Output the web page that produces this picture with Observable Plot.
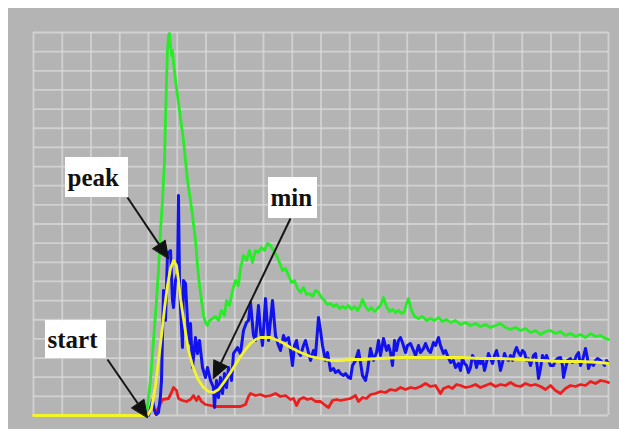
<!DOCTYPE html>
<html><head><meta charset="utf-8">
<script src="https://cdn.jsdelivr.net/npm/d3@7"></script>
<script src="https://cdn.jsdelivr.net/npm/@observablehq/plot@0.6"></script>
<style>html,body{margin:0;padding:0;background:#fff;} #chart{padding:8px 0 0 8px;width:611px;height:421px;}</style>
</head><body><div id="chart"></div>
<script>
// x = sample index, y = signal level (arbitrary units)
const sampleDomain = [0, 575];
const levelDomain = [0, 383];
const gridDivisions = 20;

const yellowSeries = [[0,0],[114,0],[118,7],[122,30],[125,55],[128,80],[131,107],[134,130],[137,147],[140,155],[143,150],[145,135],[147,117],[151,90],[155,65],[159,50],[164,37],[170,28],[175,24],[180,23],[185,26],[191,34],[197,43],[202,51],[207,59],[212,66],[217,72],[222,76],[227,78],[232,78],[237,78],[247,74],[257,68],[267,63],[277,59],[287,57],[297,55],[307,55],[317,56],[327,56],[347,57],[367,58],[387,58],[407,58],[427,58],[447,57],[467,57],[487,56],[507,55],[527,54],[547,54],[567,53],[575,52]];

const greenSeries = [[113,1],[117,35],[120,75],[123,115],[125,145],[127,185],[129,215],[131,255],[132,295],[133,335],[134,365],[135,380],[136,382],[137,370],[138,360],[139,365],[140,353],[142,335],[144,320],[147,297],[150,275],[152,255],[154,235],[157,215],[159,200],[162,175],[164,150],[166,130],[168,115],[170,100],[172,93],[174,90],[176,95],[179,97],[182,99],[185,95],[188,105],[191,100],[193,115],[196,110],[199,125],[202,135],[205,130],[207,147],[210,160],[213,155],[216,165],[219,153],[222,165],[225,163],[228,168],[231,165],[234,172],[237,170],[240,165],[243,160],[246,153],[249,145],[252,147],[255,140],[258,133],[261,135],[264,127],[267,123],[270,128],[273,121],[276,122],[279,119],[282,125],[285,123],[288,118],[291,115],[294,111],[297,112],[300,109],[303,111],[306,107],[309,109],[312,107],[315,110],[318,106],[321,109],[324,105],[327,110],[329,116],[332,109],[335,105],[338,108],[341,104],[344,107],[347,110],[350,118],[353,109],[356,104],[359,106],[362,103],[365,105],[368,102],[371,104],[373,112],[375,117],[378,105],[381,99],[385,97],[389,99],[393,95],[397,97],[401,95],[405,98],[409,94],[413,96],[417,93],[422,95],[427,91],[432,93],[437,90],[442,92],[447,89],[452,91],[457,88],[462,90],[467,92],[472,88],[477,86],[482,88],[487,85],[492,87],[497,83],[502,85],[507,81],[512,84],[517,85],[522,82],[527,84],[532,80],[537,82],[542,79],[547,81],[552,78],[557,82],[562,79],[567,80],[572,77],[575,76]];

const redSeries = [[122,2],[129,16],[135,17],[138,23],[140,28],[143,25],[145,17],[149,15],[153,14],[157,16],[160,20],[163,15],[165,19],[168,14],[172,11],[177,10],[182,9],[187,9],[192,9],[197,9],[202,9],[207,9],[212,11],[215,19],[217,22],[222,20],[227,21],[232,19],[237,20],[242,22],[247,19],[252,20],[257,16],[260,17],[263,10],[266,16],[270,18],[274,16],[278,17],[282,14],[287,14],[292,10],[295,8],[299,15],[303,16],[307,15],[312,16],[317,17],[322,20],[325,14],[329,18],[333,17],[337,21],[342,22],[347,24],[352,23],[357,26],[362,25],[367,28],[372,26],[377,28],[382,27],[387,29],[392,32],[397,29],[402,30],[407,22],[410,27],[415,29],[419,27],[423,31],[427,30],[432,28],[437,29],[442,31],[447,28],[452,30],[457,32],[462,29],[467,31],[472,30],[477,33],[482,30],[487,29],[492,32],[497,30],[502,31],[507,29],[512,26],[517,30],[522,25],[527,22],[532,27],[537,30],[542,29],[547,31],[552,30],[557,34],[562,32],[567,35],[572,34],[575,33]];

const blueSeries = [[115,0],[117,7],[119,15],[121,5],[123,1],[125,3],[127,20],[128,35],[130,125],[132,95],[134,162],[137,165],[139,115],[140,108],[142,135],[144,142],[145,220],[146,135],[147,108],[149,68],[150,135],[152,132],[154,95],[155,72],[157,92],[159,48],[162,78],[164,62],[166,75],[169,48],[172,38],[174,48],[177,35],[180,28],[181,8],[183,35],[185,18],[187,38],[189,22],[191,42],[193,28],[195,48],[198,35],[200,62],[204,68],[207,62],[210,85],[213,93],[215,95],[217,113],[220,80],[222,75],[225,110],[227,85],[229,70],[232,117],[235,75],[237,95],[239,115],[242,80],[245,70],[247,65],[250,80],[252,75],[255,78],[257,65],[259,50],[261,70],[263,75],[265,63],[267,60],[270,70],[272,75],[275,63],[277,55],[280,65],[282,60],[285,98],[287,85],[289,70],[292,55],[294,63],[297,45],[300,47],[302,43],[305,45],[307,42],[310,40],[312,42],[315,38],[317,37],[319,50],[322,55],[325,65],[327,53],[329,40],[332,35],[334,45],[337,67],[340,55],[343,63],[345,75],[347,60],[350,77],[353,65],[355,70],[357,63],[359,50],[361,75],[363,65],[365,75],[367,78],[369,73],[372,63],[374,70],[377,72],[380,65],[382,60],[385,70],[387,63],[390,67],[392,72],[395,65],[397,63],[400,73],[402,70],[405,78],[407,70],[410,62],[412,65],[414,60],[417,53],[420,55],[422,48],[425,52],[427,45],[429,57],[431,52],[433,50],[435,43],[437,48],[439,60],[441,57],[443,48],[445,56],[447,52],[449,57],[451,45],[453,53],[455,62],[457,57],[459,52],[461,60],[463,65],[465,57],[467,45],[469,53],[471,62],[473,57],[475,55],[477,60],[479,55],[481,63],[483,68],[485,63],[487,60],[489,65],[491,63],[493,55],[495,57],[497,50],[500,60],[502,62],[504,47],[505,37],[507,47],[509,60],[511,55],[513,60],[515,55],[517,50],[520,50],[522,55],[524,57],[527,58],[529,50],[530,38],[532,47],[534,55],[537,57],[539,53],[541,55],[543,60],[545,63],[547,50],[549,55],[552,67],[554,57],[555,47],[557,53],[560,50],[562,55],[564,57],[567,55],[569,53],[571,50],[573,55],[575,52]];

// annotations
const labels = ["peak", "min", "start"];
const boxX1 = [32, 235, 12];
const boxX2 = [95, 284, 73];
const boxY1 = [218, 197, 57];
const boxY2 = [258, 238, 95];
const arrowFromX = [94, 257, 74];
const arrowFromY = [218, 197, 56];
const arrowToX = [135, 180, 114];
const arrowToY = [157, 37, -2];

const toRows = (arr) => arr.map(([x, y]) => ({x, y}));
const series = [
  {name: "red", data: toRows(redSeries), color: "#ec1e1e", w: 2.8},
  {name: "green", data: toRows(greenSeries), color: "#27ec27", w: 2.8},
  {name: "blue", data: toRows(blueSeries), color: "#1212ee", w: 3},
  {name: "yellow", data: toRows(yellowSeries), color: "#f4f42a", w: 2.8}
];

const headLen = 17, headHalf = 7.5;
const annots = labels.map((label, i) => {
  const sx = arrowFromX[i], sy = arrowFromY[i], tx = arrowToX[i], ty = arrowToY[i];
  const len = Math.hypot(tx - sx, ty - sy);
  const ux = (tx - sx) / len, uy = (ty - sy) / len;
  const bx = tx - headLen * ux, by = ty - headLen * uy;
  return {
    label, x1: boxX1[i], x2: boxX2[i], y1: boxY1[i], y2: boxY2[i], yc: (boxY1[i] + boxY2[i]) / 2,
    sx, sy, bx, by,
    tri: [[tx, ty], [bx - headHalf * uy, by + headHalf * ux], [bx + headHalf * uy, by - headHalf * ux]]
  };
});
const triRows = annots.flatMap((a, i) => a.tri.map(([x, y]) => ({id: i, x, y})));

const gridX = d3.range(gridDivisions + 1).map(i => sampleDomain[0] + i * (sampleDomain[1] - sampleDomain[0]) / gridDivisions);
const gridY = d3.range(gridDivisions + 1).map(i => levelDomain[0] + i * (levelDomain[1] - levelDomain[0]) / gridDivisions);

const chart = Plot.plot({
  width: 611, height: 421,
  marginLeft: 25, marginRight: 11, marginTop: 24, marginBottom: 14,
  x: {domain: sampleDomain, axis: null},
  y: {domain: levelDomain, axis: null},
  style: {background: "#b4b4b4", overflow: "visible"},
  marks: [
    Plot.ruleX(gridX, {stroke: "#d8d8d8", strokeWidth: 1.8, strokeOpacity: 0.8}),
    Plot.ruleY(gridY, {stroke: "#d8d8d8", strokeWidth: 1.8, strokeOpacity: 0.8}),
    ...series.map(s => Plot.line(s.data, {x: "x", y: "y", stroke: s.color, strokeWidth: s.w, strokeLinejoin: "round"})),
    Plot.rect(annots, {x1: "x1", x2: "x2", y1: "y1", y2: "y2", fill: "white"}),
    Plot.text(annots, {x: "x1", y: "yc", text: "label", textAnchor: "start", dx: 2, fontFamily: "Liberation Serif", fontWeight: "bold", fontSize: 25, fill: "#111"}),
    Plot.link(annots, {x1: "sx", y1: "sy", x2: "bx", y2: "by", stroke: "#161616", strokeWidth: 2}),
    Plot.line(triRows, {x: "x", y: "y", z: "id", fill: "#111", stroke: "#111", strokeWidth: 1, curve: "linear-closed"})
  ]
});
document.getElementById("chart").appendChild(chart);
</script></body></html>
